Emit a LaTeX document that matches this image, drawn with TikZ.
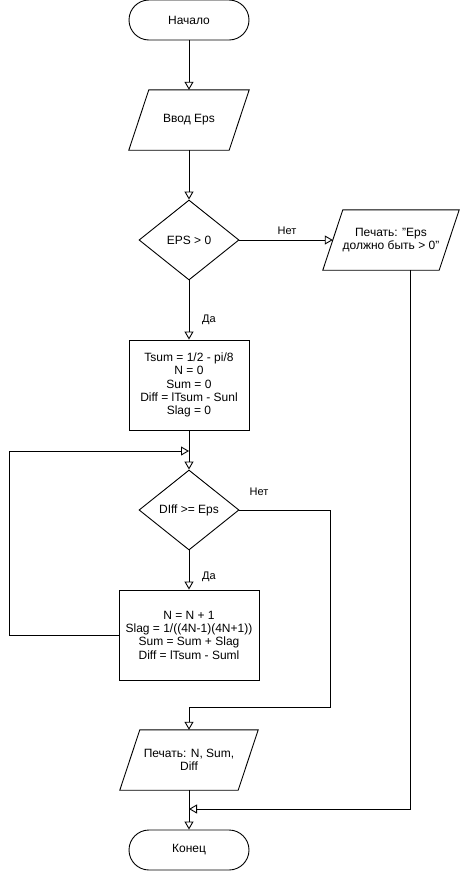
\documentclass[tikz,border=0pt]{standalone}
\usepackage{fontspec}
\setmainfont{Liberation Sans}
\usetikzlibrary{arrows.meta,shapes.geometric,calc}
\begin{document}
\begin{tikzpicture}[x=1pt,y=-1pt,
  every node/.style={font=\fontsize{12}{13.3}\selectfont, align=center, inner sep=0pt},
  line/.style={draw=black, line width=0.9pt},
  arr/.style={line, -{Triangle[open, length=8pt, width=9pt]}},
  term/.style={line, rectangle, rounded corners=20pt, minimum width=120pt, minimum height=40pt},
  procbox/.style={line, rectangle, minimum height=90pt},
  decis/.style={line, diamond, minimum width=100pt, minimum height=80pt},
  iobox/.style={rectangle, minimum height=60pt},
  lbl/.style={font=\fontsize{11}{12}\selectfont}
]
\useasboundingbox (0,0) rectangle (460,871);

\node[term] (start) at (189,20) {Начало};
\node[iobox, minimum width=100pt] (input) at (189,120) {Ввод Eps};
\node[decis] (dec1) at (189,240) {EPS \textgreater{} 0};
\node[iobox, minimum width=116pt] (err) at (391,240) {Печать: "Eps\\должно быть \textgreater{} 0"};
\node[procbox, minimum width=120pt] (init) at (189,385) {Tsum = 1/2 - pi/8\\N = 0\\Sum = 0\\Diff = lTsum - Sunl\\Slag = 0};
\node[decis] (dec2) at (189,510) {DIff \textgreater= Eps};
\node[procbox, minimum width=140pt] (body) at (189,635) {N = N + 1\\Slag = 1/((4N-1)(4N+1))\\Sum = Sum + Slag\\Diff = lTsum - Suml};
\node[iobox, minimum width=118pt] (out) at (189,760) {Печать: N, Sum,\\Diff};
\node[term] (stop) at (189,850) {Конец};

% parallelogram outlines
\foreach \n in {input,err,out}{
  \draw[line] ([xshift=10pt]\n.north west) -- ([xshift=10pt]\n.north east)
    -- ([xshift=-10pt]\n.south east) -- ([xshift=-10pt]\n.south west) -- cycle;
}

% helper coordinates
\coordinate (merge1) at (189,451);
\coordinate (loopl) at (9,451);
\coordinate (noR) at (330,707);
\coordinate (errdown) at (410,270);
\coordinate (errcorner) at (410,809);
\coordinate (merge2) at (189,809);

% connectors
\draw[arr] (start.south) -- (input.north);
\draw[arr] (input.south) -- (dec1.north);
\draw[arr] (dec1.east) -- (err.west);
\draw[arr] (dec1.south) -- (init.north);
\draw[arr] (init.south) -- (dec2.north);
\draw[arr] (dec2.south) -- (body.north);
\draw[arr] (body.west) -| (loopl) -- (merge1);
\draw[arr] (dec2.east) -| (noR) -| (out.north);
\draw[arr] (out.south) -- (stop.north);
\draw[arr] (errdown) -- (errcorner) -- (merge2);

% labels
\node[lbl] (l1) at (287,231) {Нет};
\node[lbl] (l2) at (209,320) {Да};
\node[lbl] (l3) at (259,492) {Нет};
\node[lbl] (l4) at (209,577) {Да};
\end{tikzpicture}
\end{document}
